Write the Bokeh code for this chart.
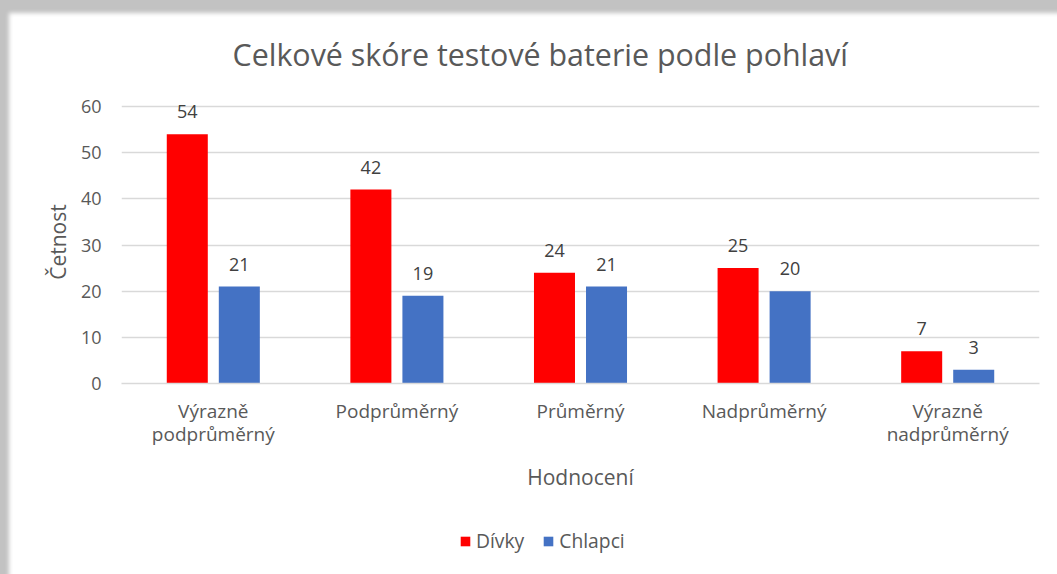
from bokeh.plotting import figure
from bokeh.models import ColumnDataSource, Range1d, Legend, LegendItem, Title
from bokeh.layouts import column
from bokeh.transform import dodge
from bokeh.core.properties import value
from bokeh.embed import file_html
from bokeh.resources import INLINE

categories = ["Výrazně\npodprůměrný", "Podprůměrný", "Průměrný", "Nadprůměrný", "Výrazně\nnadprůměrný"]
divky = [54, 42, 24, 25, 7]
chlapci = [21, 19, 21, 20, 3]
y_ticks = [0, 10, 20, 30, 40, 50, 60]
series_names = ["Dívky", "Chlapci"]

FONT = "Open Sans"
GREY = "#595959"
RED = "#FF0000"
BLUE = "#4472C4"

src = ColumnDataSource(dict(
    cat=categories,
    divky=divky,
    chlapci=chlapci,
    divky_s=[str(v) for v in divky],
    chlapci_s=[str(v) for v in chlapci],
))

H_MAIN = 500
FRAME_TOP = 100          # a little headroom above the 60 line so the top data label is not clipped
Y_MAX = 60 + (106 - FRAME_TOP) * 60 / 277
p = figure(width=1057, height=H_MAIN, x_range=categories, y_range=Range1d(0, Y_MAX),
           output_backend="svg", toolbar_location=None,
           min_border_left=121, min_border_right=18, min_border_top=FRAME_TOP,
           min_border_bottom=H_MAIN - 383)
p.outline_line_color = None
p.background_fill_color = None
p.border_fill_color = None

OFF = 0.1417
W = 0.2234
p.vbar(x=dodge("cat", -OFF, range=p.x_range), top="divky", width=W, source=src,
       fill_color=RED, line_color=None)
p.vbar(x=dodge("cat", OFF, range=p.x_range), top="chlapci", width=W, source=src,
       fill_color=BLUE, line_color=None)

p.text(x=dodge("cat", -OFF, range=p.x_range), y="divky", text="divky_s", source=src,
       text_align="center", text_baseline="bottom", y_offset=-16,
       text_font=value(FONT), text_font_size="18px", text_color="#404040")
p.text(x=dodge("cat", OFF, range=p.x_range), y="chlapci", text="chlapci_s", source=src,
       text_align="center", text_baseline="bottom", y_offset=-16,
       text_font=value(FONT), text_font_size="18px", text_color="#404040")

# axes
p.yaxis.ticker = y_ticks
p.yaxis.axis_line_color = None
p.yaxis.major_tick_line_color = None
p.yaxis.minor_tick_line_color = None
p.yaxis.major_label_text_font = FONT
p.yaxis.major_label_text_font_size = "18px"
p.yaxis.major_label_text_color = GREY
p.yaxis.major_label_standoff = 14
p.yaxis.axis_label = "Četnost"
p.yaxis.axis_label_text_font = FONT
p.yaxis.axis_label_text_font_size = "21px"
p.yaxis.axis_label_text_font_style = "normal"
p.yaxis.axis_label_text_color = GREY
p.yaxis.axis_label_standoff = 6

p.xaxis.axis_line_color = "#d9d9d9"
p.xaxis.axis_line_width = 1.5
p.xaxis.major_tick_line_color = None
p.xaxis.minor_tick_line_color = None
p.xaxis.major_label_text_font = FONT
p.xaxis.major_label_text_font_size = "19px"
p.xaxis.major_label_text_line_height = 0.9
p.xaxis.major_label_text_color = GREY
p.xaxis.major_label_standoff = 8
p.xaxis.axis_label = "Hodnocení"
p.xaxis.axis_label_text_font = FONT
p.xaxis.axis_label_text_font_size = "21px"
p.xaxis.axis_label_text_font_style = "normal"
p.xaxis.axis_label_text_color = GREY
p.xaxis.axis_label_standoff = 13

p.xgrid.grid_line_color = None
p.ygrid.grid_line_color = "#d9d9d9"
p.ygrid.grid_line_width = 1.5

# title
p.title = Title(text="Celkové skóre testové baterie podle pohlaví", align="left",
                offset=111, standoff=57 - (106 - FRAME_TOP), text_font=FONT,
                text_font_size="30.4px", text_font_style="normal", text_color=GREY)

# legend strip below the chart (hidden renderers only feed the legend swatches)
H_LEG = 574 - H_MAIN
p2 = figure(width=1057, height=H_LEG, x_range=p.x_range, y_range=Range1d(0, 1),
            output_backend="svg", toolbar_location=None,
            x_axis_type=None, y_axis_type=None, min_border=0)
p2.outline_line_color = None
p2.background_fill_color = None
p2.border_fill_color = None
p2.grid.visible = False
lr1 = p2.vbar(x="cat", top="divky", width=W, source=src,
              fill_color=RED, line_color=None, visible=False)
lr2 = p2.vbar(x="cat", top="chlapci", width=W, source=src,
              fill_color=BLUE, line_color=None, visible=False)

legend = Legend(items=[LegendItem(label=series_names[0], renderers=[lr1]),
                       LegendItem(label=series_names[1], renderers=[lr2])],
                orientation="horizontal", location=(338, 20),
                glyph_width=12, glyph_height=12, label_standoff=5, spacing=18,
                padding=0, margin=0, border_line_color=None, background_fill_alpha=0,
                inactive_fill_alpha=0,
                label_text_font=FONT, label_text_font_size="19.3px", label_text_color=GREY)
p2.add_layout(legend, "center")

layout = column(p, p2, spacing=0)
layout.styles = {"background-color": "white",
                 "box-shadow": "inset 10px 14px 4px -1px #c2c2c2"}
open("out.html", "w").write(file_html(layout, INLINE))
